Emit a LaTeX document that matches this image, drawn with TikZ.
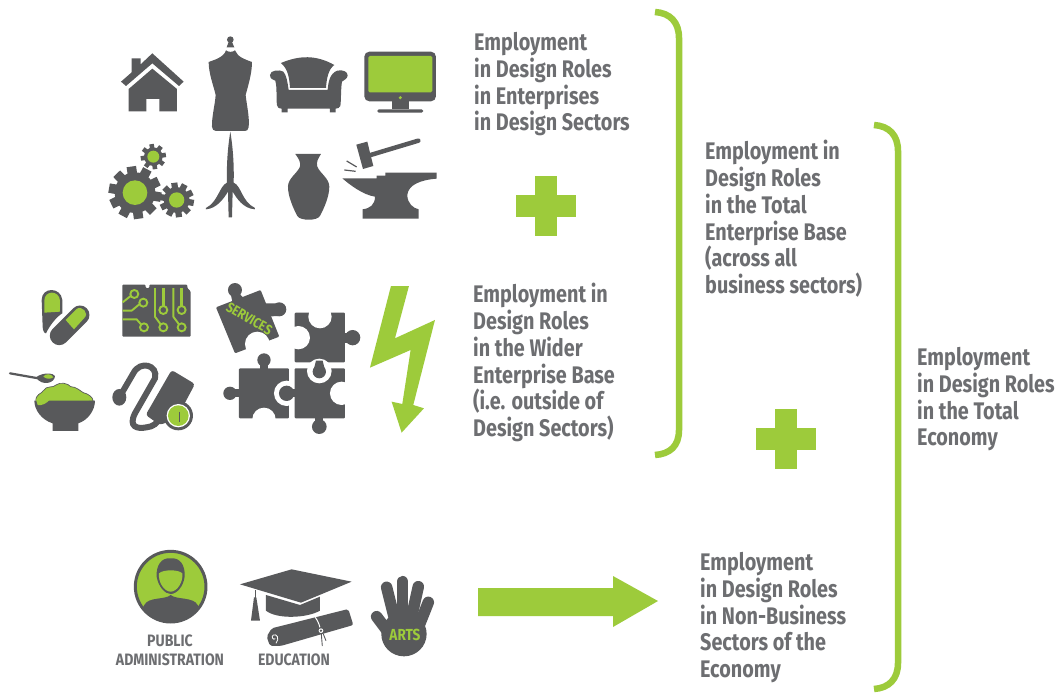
\documentclass[tikz,border=0pt]{standalone}
\usepackage{fontspec}
\setmainfont[FakeStretch=0.825]{Fira Sans}
\newfontfamily\capfont[FakeStretch=0.85]{Fira Sans}
\definecolor{ink}{HTML}{58595B}
\definecolor{txt}{HTML}{6D6E71}
\definecolor{lime}{HTML}{9DCB3B}
\newcommand{\gearicon}[6]{% x y outer root hole teeth
  \fill[ink] (#1,#2) circle[radius=#4];
  \foreach \a in {1,...,#6}{
    \fill[ink,shift={(#1,#2)},rotate=\a*360/#6+8] (-#4*0.24,0) -- (-#3*0.18,#3) -- (#3*0.18,#3) -- (#4*0.24,0) -- cycle;
  }
  \fill[lime] (#1,#2) circle[radius=#5];
}
\tikzset{
  label text/.style={font=\bfseries\fontsize{24}{26.8}\selectfont,text=txt,align=left,anchor=north west,inner sep=0pt},
  small text/.style={font=\capfont\bfseries\fontsize{16.5}{19}\selectfont,text=txt,align=center,inner sep=0pt},
  bracket/.style={draw=lime,line width=6.5pt,line cap=butt,fill=none},
}
\begin{document}
\begin{tikzpicture}[x=1pt,y=-1pt]
\useasboundingbox (0,0) rectangle (1059,693);
\fill[white] (0,0) rectangle (1059,693);
% ---- upper icons
\begin{scope}[shift={(100,20)},x=0.3333pt,y=-0.3333pt]
 % house
 \fill[ink] (63,185) -- (95,157) -- (95,115) -- (122,115) -- (122,133) -- (157,100) -- (251,185) -- (237,198) -- (157,130) -- (78,198) -- cycle;
 \fill[ink] (86,207) -- (157,146) -- (231,207) -- (231,274) -- (178,274) -- (178,237) -- (139,237) -- (139,274) -- (86,274) -- cycle;
 % dress form
 \fill[ink] (391,59) circle[radius=10];
 \fill[ink] (386,66) -- (396,66) -- (403,82) -- (380,82) -- cycle;
 \fill[ink] (378,91) .. controls (385,97) and (398,97) .. (405,91) .. controls (412,112) and (440,120) .. (456,126) .. controls (456,160) and (445,195) .. (437,225) .. controls (440,255) and (449,290) .. (446,322) .. controls (445,330) and (440,333) .. (435,333) -- (348,333) .. controls (340,333) and (337,328) .. (336,320) .. controls (335,290) and (345,255) .. (347,225) .. controls (340,195) and (326,160) .. (326,126) .. controls (342,120) and (372,112) .. (378,91) -- cycle;
 \fill[ink] (391,335) .. controls (396,365) and (403,420) .. (401,488) .. controls (425,498) and (425,545) .. (465,564) -- (465,568) .. controls (430,566) and (410,535) .. (398,515) -- (396,592) -- (386,592) -- (384,515) .. controls (372,535) and (350,566) .. (318,568) -- (318,564) .. controls (355,545) and (358,498) .. (381,488) .. controls (379,420) and (386,365) .. (391,335) -- cycle;
 % sofa
 \fill[ink] (543,129) .. controls (600,105) and (650,105) .. (703,135) .. controls (685,148) and (680,175) .. (678,204) -- (570,204) .. controls (568,175) and (565,148) .. (543,129) -- cycle;
 \fill[ink] (510,165) .. controls (510,150) and (540,148) .. (550,155) .. controls (560,165) and (563,190) .. (566,210) -- (683,210) .. controls (685,185) and (690,160) .. (712,152) .. controls (728,148) and (744,155) .. (743,167) .. controls (742,178) and (730,180) .. (726,185) .. controls (722,210) and (724,240) .. (721,258) .. controls (719,264) and (714,265) .. (707,266) -- (707,277) -- (690,277) -- (690,266) -- (563,266) -- (563,277) -- (545,277) -- (545,266) .. controls (535,265) and (532,262) .. (531,255) .. controls (528,235) and (532,205) .. (526,182) .. controls (520,178) and (510,178) .. (510,165) -- cycle;
 % monitor
 \fill[ink,rounded corners=5pt] (793,95) rectangle (1008,244);
 \fill[lime,rounded corners=1.5pt] (805,108) rectangle (997,217);
 \fill[lime] (901,233) circle[radius=5];
 \fill[ink] (875,243) rectangle (927,268);
 \fill[ink,rounded corners=1.5pt] (832,268) rectangle (970,278);
 % gears
 \gearicon{105}{518}{79}{61}{37}{10}
 \gearicon{230}{540}{52}{39}{23}{10}
 \gearicon{160}{410}{38}{28}{18}{8}
 % vase
 \fill[ink] (586,402) -- (663,402) .. controls (655,415) and (648,425) .. (652,440) .. controls (660,460) and (688,475) .. (688,500) .. controls (688,530) and (672,565) .. (660,588) .. controls (652,603) and (600,603) .. (592,588) .. controls (580,565) and (564,530) .. (564,500) .. controls (564,475) and (592,460) .. (600,440) .. controls (603,425) and (595,415) .. (586,402) -- cycle;
 % hammer
 \fill[ink] (769,374) -- (802,365) -- (820,438) -- (789,447) -- cycle;
 \draw[ink,line width=4.5pt,line cap=round] (812,405) -- (955,362);
 \draw[ink,line width=1.2pt] (740,423) -- (770,441) (733,450) -- (767,454);
 % anvil
 \fill[ink] (727,475) -- (830,475) -- (830,467) -- (856,467) -- (856,458) -- (1010,458) -- (1010,476) .. controls (960,480) and (925,495) .. (922,525) .. controls (922,550) and (940,565) .. (956,568) -- (956,596) -- (788,596) -- (788,568) .. controls (810,565) and (825,555) .. (825,530) .. controls (790,525) and (750,495) .. (727,475) -- cycle;
\end{scope}
% ---- middle icons
\begin{scope}[shift={(0,270)},x=0.3333pt,y=-0.3333pt]
 % pills
 \fill[ink] (125,90) .. controls (125,50) and (183,50) .. (187,90) -- (187,130) .. controls (170,140) and (150,165) .. (138,190) .. controls (132,190) and (128,180) .. (128,170) -- cycle;
 \fill[lime] (133,128) -- (133,92) .. controls (133,60) and (178,60) .. (180,92) -- (180,125) -- cycle;
 \draw[ink,line width=19pt,line cap=round] (178,197) -- (240,135);
 \fill[lime] (197,150) -- (230,117) .. controls (245,105) and (270,130) .. (252,145) -- (222,178) -- cycle;
 % circuit board
 \fill[ink,rounded corners=1pt] (367,44) -- (437,44) -- (437,54) -- (448,54) -- (448,44) -- (562,44) -- (562,54) -- (572,64) -- (572,200) -- (367,200) -- cycle;
 \begin{scope}[line width=1.9pt]
  \foreach \cx/\cy in {403/72,430/98,432/172,490/172,545/172,490/120,545/120}
    \draw[lime] (\cx,\cy) circle[radius=12];
  \draw[lime] (392,78) -- (368,97);
  \draw[lime] (418,103) -- (395,122) -- (368,122);
  \draw[lime] (368,148) -- (410,148) -- (423,163);
  \draw[lime] (465,54) -- (465,140) -- (482,163);
  \draw[lime] (520,54) -- (520,140) -- (537,163);
  \draw[lime,line width=3pt] (491,54) -- (491,108);
  \draw[lime,line width=3pt] (545,54) -- (545,108);
 \end{scope}
 % puzzle: services piece
 \fill[ink,rounded corners=1pt] (648,112) -- (782,60) -- (838,200) -- (705,250) -- cycle;
 \fill[ink] (705,60) circle[radius=21];
 \fill[ink] (692,70) -- (718,70) -- (740,95) -- (700,110) -- cycle;
 \fill[ink] (838,118) circle[radius=21];
 \fill[ink] (830,100) -- (835,138) -- (795,140) -- (790,100) -- cycle;
 \fill[white] (772,222) circle[radius=37];
 \node[rotate=-30,font=\capfont\bfseries\fontsize{14}{14}\selectfont,text=lime,inner sep=0pt] (services) at (748,146) {SERVICES};
 % puzzle: top right
 \fill[ink,rounded corners=1pt] (884,128) rectangle (1035,277);
 \fill[white] (960,140) circle[radius=35];
 \fill[white] (895,203) circle[radius=35];
 \fill[ink] (1058,203) circle[radius=23];
 \fill[ink] (1030,188) rectangle (1045,218);
 % puzzle: bottom left
 \fill[ink,rounded corners=1pt] (717,295) rectangle (867,445);
 \fill[ink] (792,270) circle[radius=20];
 \fill[ink] (780,285) rectangle (804,300);
 \fill[ink] (690,370) circle[radius=20];
 \fill[ink] (702,358) rectangle (720,382);
 \fill[white] (792,448) circle[radius=35];
 \fill[white] (860,370) circle[radius=38];
 % puzzle: bottom right
 \fill[ink,rounded corners=1pt] (884,295) rectangle (1035,445);
 \fill[white] (958,303) circle[radius=37];
 \fill[white] (1025,370) circle[radius=35];
 \fill[ink] (860,370) circle[radius=23];
 \fill[ink] (870,358) rectangle (888,382);
 \fill[ink] (958,470) circle[radius=22];
 \fill[ink] (946,440) rectangle (970,458);
 \fill[ink] (958,305) circle[radius=20];
 \fill[ink] (948,272) -- (968,272) -- (975,300) -- (941,300) -- cycle;
 % bolt
 \fill[lime] (1173,48) -- (1227,48) -- (1185,205) -- (1305,150) -- (1240,405) -- (1272,415) -- (1205,488) -- (1175,395) -- (1207,402) -- (1232,240) -- (1110,293) -- cycle;
 % bowl
 \draw[ink,line width=2.2pt,line cap=round] (30,310) -- (115,325);
 \fill[ink] (108,322) .. controls (130,305) and (162,310) .. (165,318) .. controls (165,340) and (125,350) .. (108,322) -- cycle;
 \fill[lime] (130,320) .. controls (135,310) and (155,310) .. (160,322) .. controls (150,328) and (140,328) .. (130,320) -- cycle;
 \fill[lime,draw=ink,line width=0.7pt] (108,395) .. controls (105,372) and (125,372) .. (130,362) .. controls (140,345) and (160,355) .. (168,345) .. controls (180,335) and (205,340) .. (212,350) .. controls (228,350) and (240,362) .. (250,368) .. controls (265,372) and (278,380) .. (280,394) -- cycle;
 \fill[ink] (103,392) -- (285,392) .. controls (285,420) and (265,450) .. (235,460) -- (235,483) -- (158,483) -- (158,460) .. controls (125,450) and (103,420) .. (103,392) -- cycle;
 \fill[lime] (108,388) -- (148,390) .. controls (140,400) and (125,408) .. (113,405) -- cycle;
 % device
 \fill[ink,rounded corners=3pt] (515,300) -- (585,342) -- (530,445) -- (480,465) -- (437,435) -- cycle;
 \draw[ink,line width=6pt] (358,382) -- (400,310) .. controls (420,270) and (475,285) .. (465,325) -- (405,430) .. controls (385,470) and (410,478) .. (440,472) .. controls (460,470) and (470,460) .. (480,445);
 \fill[ink] (358,382) ellipse[x radius=21,y radius=25];
 \fill[ink] (535,437) circle[radius=44];
 \fill[white] (535,437) circle[radius=35];
 \fill[lime] (535,437) circle[radius=31];
 \draw[ink,line width=1pt] (540,425) -- (540,455);
\end{scope}
% ---- lower icons
\begin{scope}[shift={(100,540)},x=0.3333pt,y=-0.3333pt]
 % public administration portrait
 \fill[lime,draw=ink,line width=3pt] (212,140) circle[radius=106];
 \begin{scope}
  \clip (212,140) circle[radius=106];
  \fill[ink] (100,250) -- (133,195) .. controls (145,170) and (195,180) .. (212,165) .. controls (230,180) and (280,170) .. (293,195) -- (325,250) -- cycle;
 \end{scope}
 \fill[ink] (212,55) .. controls (185,52) and (168,75) .. (170,110) .. controls (175,140) and (195,162) .. (212,162) .. controls (230,162) and (250,140) .. (254,110) .. controls (256,75) and (240,52) .. (212,55) -- cycle;
 \fill[lime] (177,100) .. controls (190,88) and (235,88) .. (247,100) .. controls (250,125) and (232,155) .. (212,155) .. controls (192,155) and (174,125) .. (177,100) -- cycle;
 % mortar board
 \fill[ink] (420,133) -- (575,88) -- (755,125) -- (603,188) -- cycle;
 \fill[ink] (498,165) -- (600,195) -- (660,170) -- (660,212) .. controls (620,235) and (530,238) .. (498,212) -- cycle;
 \draw[ink,line width=0.9pt] (465,150) -- (465,175);
 \fill[ink] (462,172) -- (469,172) -- (480,242) -- (453,242) -- cycle;
 % diploma
 \fill[ink,rounded corners=2pt] (515,265) -- (745,207) -- (760,255) -- (542,318) -- (510,318) -- (500,290) -- cycle;
 \draw[white,line width=1pt] (646,232) .. controls (655,245) and (660,255) .. (665,290);
 \fill[ink] (663,272) circle[radius=11];
 \fill[white] (663,272) circle[radius=7];
 \fill[ink] (663,272) circle[radius=4];
 \draw[ink,line width=0.9pt] (664,282) -- (667,318) (670,282) -- (678,302);
 \draw[white,line width=0.8pt] (528,310) .. controls (540,295) and (530,280) .. (520,285) .. controls (512,290) and (520,302) .. (526,296);
 % hand
 \begin{scope}[ink,line width=11.5pt,line cap=round]
  \draw (860,142) -- (882,230);
  \draw (908,125) -- (908,230);
  \draw (955,140) -- (935,230);
  \draw (985,187) -- (960,250);
  \draw (830,230) -- (875,290);
 \end{scope}
 \fill[ink] (912,282) ellipse[x radius=68,y radius=67];
 \node[font=\capfont\bfseries\fontsize{16}{17}\selectfont,text=lime,inner sep=0pt] (arts) at (915,284) {ARTS};
\end{scope}
% ---- small captions
\node[small text] (pub) at (170,650) {PUBLIC\\ADMINISTRATION};
\node[small text] (edu) at (294,660) {EDUCATION};
% ---- text blocks
\node[label text] (t1) at (474,32) {Employment\\in Design Roles\\in Enterprises\\in Design Sectors};
\node[label text] (t2) at (473,283) {Employment in\\Design Roles\\in the Wider\\Enterprise Base\\(i.e. outside of\\Design Sectors)};
\node[label text] (t3) at (705,140) {Employment in\\Design Roles\\in the Total\\Enterprise Base\\(across all\\business sectors)};
\node[label text] (t4) at (700,552) {Employment\\in Design Roles\\in Non-Business\\Sectors of the\\Economy};
\node[label text] (t5) at (917,347) {Employment\\in Design Roles\\in the Total\\Economy};
% ---- plus signs
\fill[lime] (535,176) rectangle (557,236);
\fill[lime] (516,195) rectangle (576,217);
\fill[lime] (775,409) rectangle (797,469);
\fill[lime] (756,428) rectangle (816,450);
% ---- arrow
\fill[lime] (478,588) -- (613,588) -- (613,576) -- (658,601) -- (613,627) -- (613,616) -- (478,616) -- cycle;
% ---- brackets
\draw[bracket] (655,12) .. controls (670,13) and (679,22) .. (679,38) -- (679,430) .. controls (679,446) and (670,454) .. (655,455);
\draw[bracket] (874,125) .. controls (889,126) and (898,135) .. (898,151) -- (898,663) .. controls (898,679) and (889,688) .. (874,689);
\end{tikzpicture}
\end{document}
